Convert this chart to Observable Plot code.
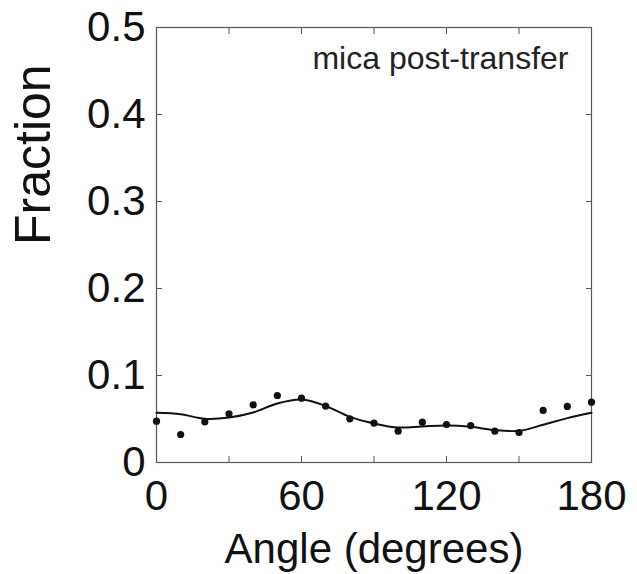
<!DOCTYPE html>
<html>
<head>
<meta charset="utf-8">
<script src="https://cdn.jsdelivr.net/npm/d3@7"></script>
<script src="https://cdn.jsdelivr.net/npm/@observablehq/plot@0.6"></script>
<style>
  html, body { margin: 0; padding: 0; background: #fff; }
  svg { display: block; }
</style>
</head>
<body>
<div id="chart"></div>
<script>
// Measured fractions at each angle (degrees)
const angles = [0, 10, 20, 30, 40, 50, 60, 70, 80, 90, 100, 110, 120, 130, 140, 150, 160, 170, 180];
const fractions = [0.0475, 0.0322, 0.0467, 0.0559, 0.0663, 0.0770, 0.0739, 0.0647, 0.0502, 0.0452, 0.0360, 0.0464, 0.0437, 0.0425, 0.0360, 0.0345, 0.0598, 0.0644, 0.0693];
// Fitted curve, read at the same angles
const fitValues = [0.0571, 0.0555, 0.0503, 0.0517, 0.0575, 0.0678, 0.0724, 0.0650, 0.0524, 0.0449, 0.0402, 0.0414, 0.0425, 0.0410, 0.0372, 0.0364, 0.0433, 0.0510, 0.0571];

const xTicks = [0, 30, 60, 90, 120, 150, 180];
const xLabels = [0, 60, 120, 180];
const yTicks = [0, 0.1, 0.2, 0.3, 0.4, 0.5];
const xTitle = ["Angle (degrees)"];
const yTitle = ["Fraction"];
const annotation = ["mica post-transfer"];

const points = angles.map((a, i) => ({angle: a, fraction: fractions[i]}));
const fit = angles.map((a, i) => ({angle: a, fraction: fitValues[i]}));

const font = "Liberation Sans, Arial, Helvetica, sans-serif";
const tickFmtX = d => xLabels.includes(d) ? String(d) : "";
const tickFmtY = d => d === 0 ? "0" : d3.format(".1f")(d);

const chart = Plot.plot({
  width: 637,
  height: 574,
  marginLeft: 156,
  marginRight: 46,
  marginTop: 27,
  marginBottom: 112,
  style: {fontFamily: font, background: "#fff", color: "#111"},
  x: {domain: [0, 180]},
  y: {domain: [0, 0.5]},
  marks: [
    Plot.frame({stroke: "#555", strokeWidth: 1.2}),
    Plot.axisX({anchor: "bottom", ticks: xTicks, tickSize: -6, tickPadding: 24, tickFormat: tickFmtX,
      fontSize: 42, label: null, stroke: "#555", style: "letter-spacing:3px"}),
    Plot.axisX({anchor: "top", ticks: xTicks, tickSize: -6, tickFormat: () => "", label: null, stroke: "#555"}),
    Plot.axisY({anchor: "left", ticks: yTicks, tickSize: -6, tickPadding: 17, tickFormat: tickFmtY,
      fontSize: 42, label: null, stroke: "#555", style: "letter-spacing:3px"}),
    Plot.axisY({anchor: "right", ticks: yTicks, tickSize: -6, tickFormat: () => "", label: null, stroke: "#555"}),
    Plot.line(fit, {x: "angle", y: "fraction", curve: "catmull-rom", stroke: "#111", strokeWidth: 2}),
    Plot.dot(points, {x: "angle", y: "fraction", r: 3.6, fill: "#111", stroke: "none"}),
    Plot.text(annotation, {frameAnchor: "top-right", textAnchor: "end", lineAnchor: "top", dx: -23, dy: 19,
      fontSize: 32, fill: "#222", style: "letter-spacing:0.4px"}),
    Plot.text(xTitle, {frameAnchor: "bottom", lineAnchor: "bottom", dy: 100, fontSize: 42, fill: "#111",
      style: "letter-spacing:1px"}),
    Plot.text(yTitle, {frameAnchor: "left", rotate: -90, lineAnchor: "middle", dx: -123, fontSize: 50, fill: "#111"})
  ]
});
document.getElementById("chart").appendChild(chart);
</script>
</body>
</html>
